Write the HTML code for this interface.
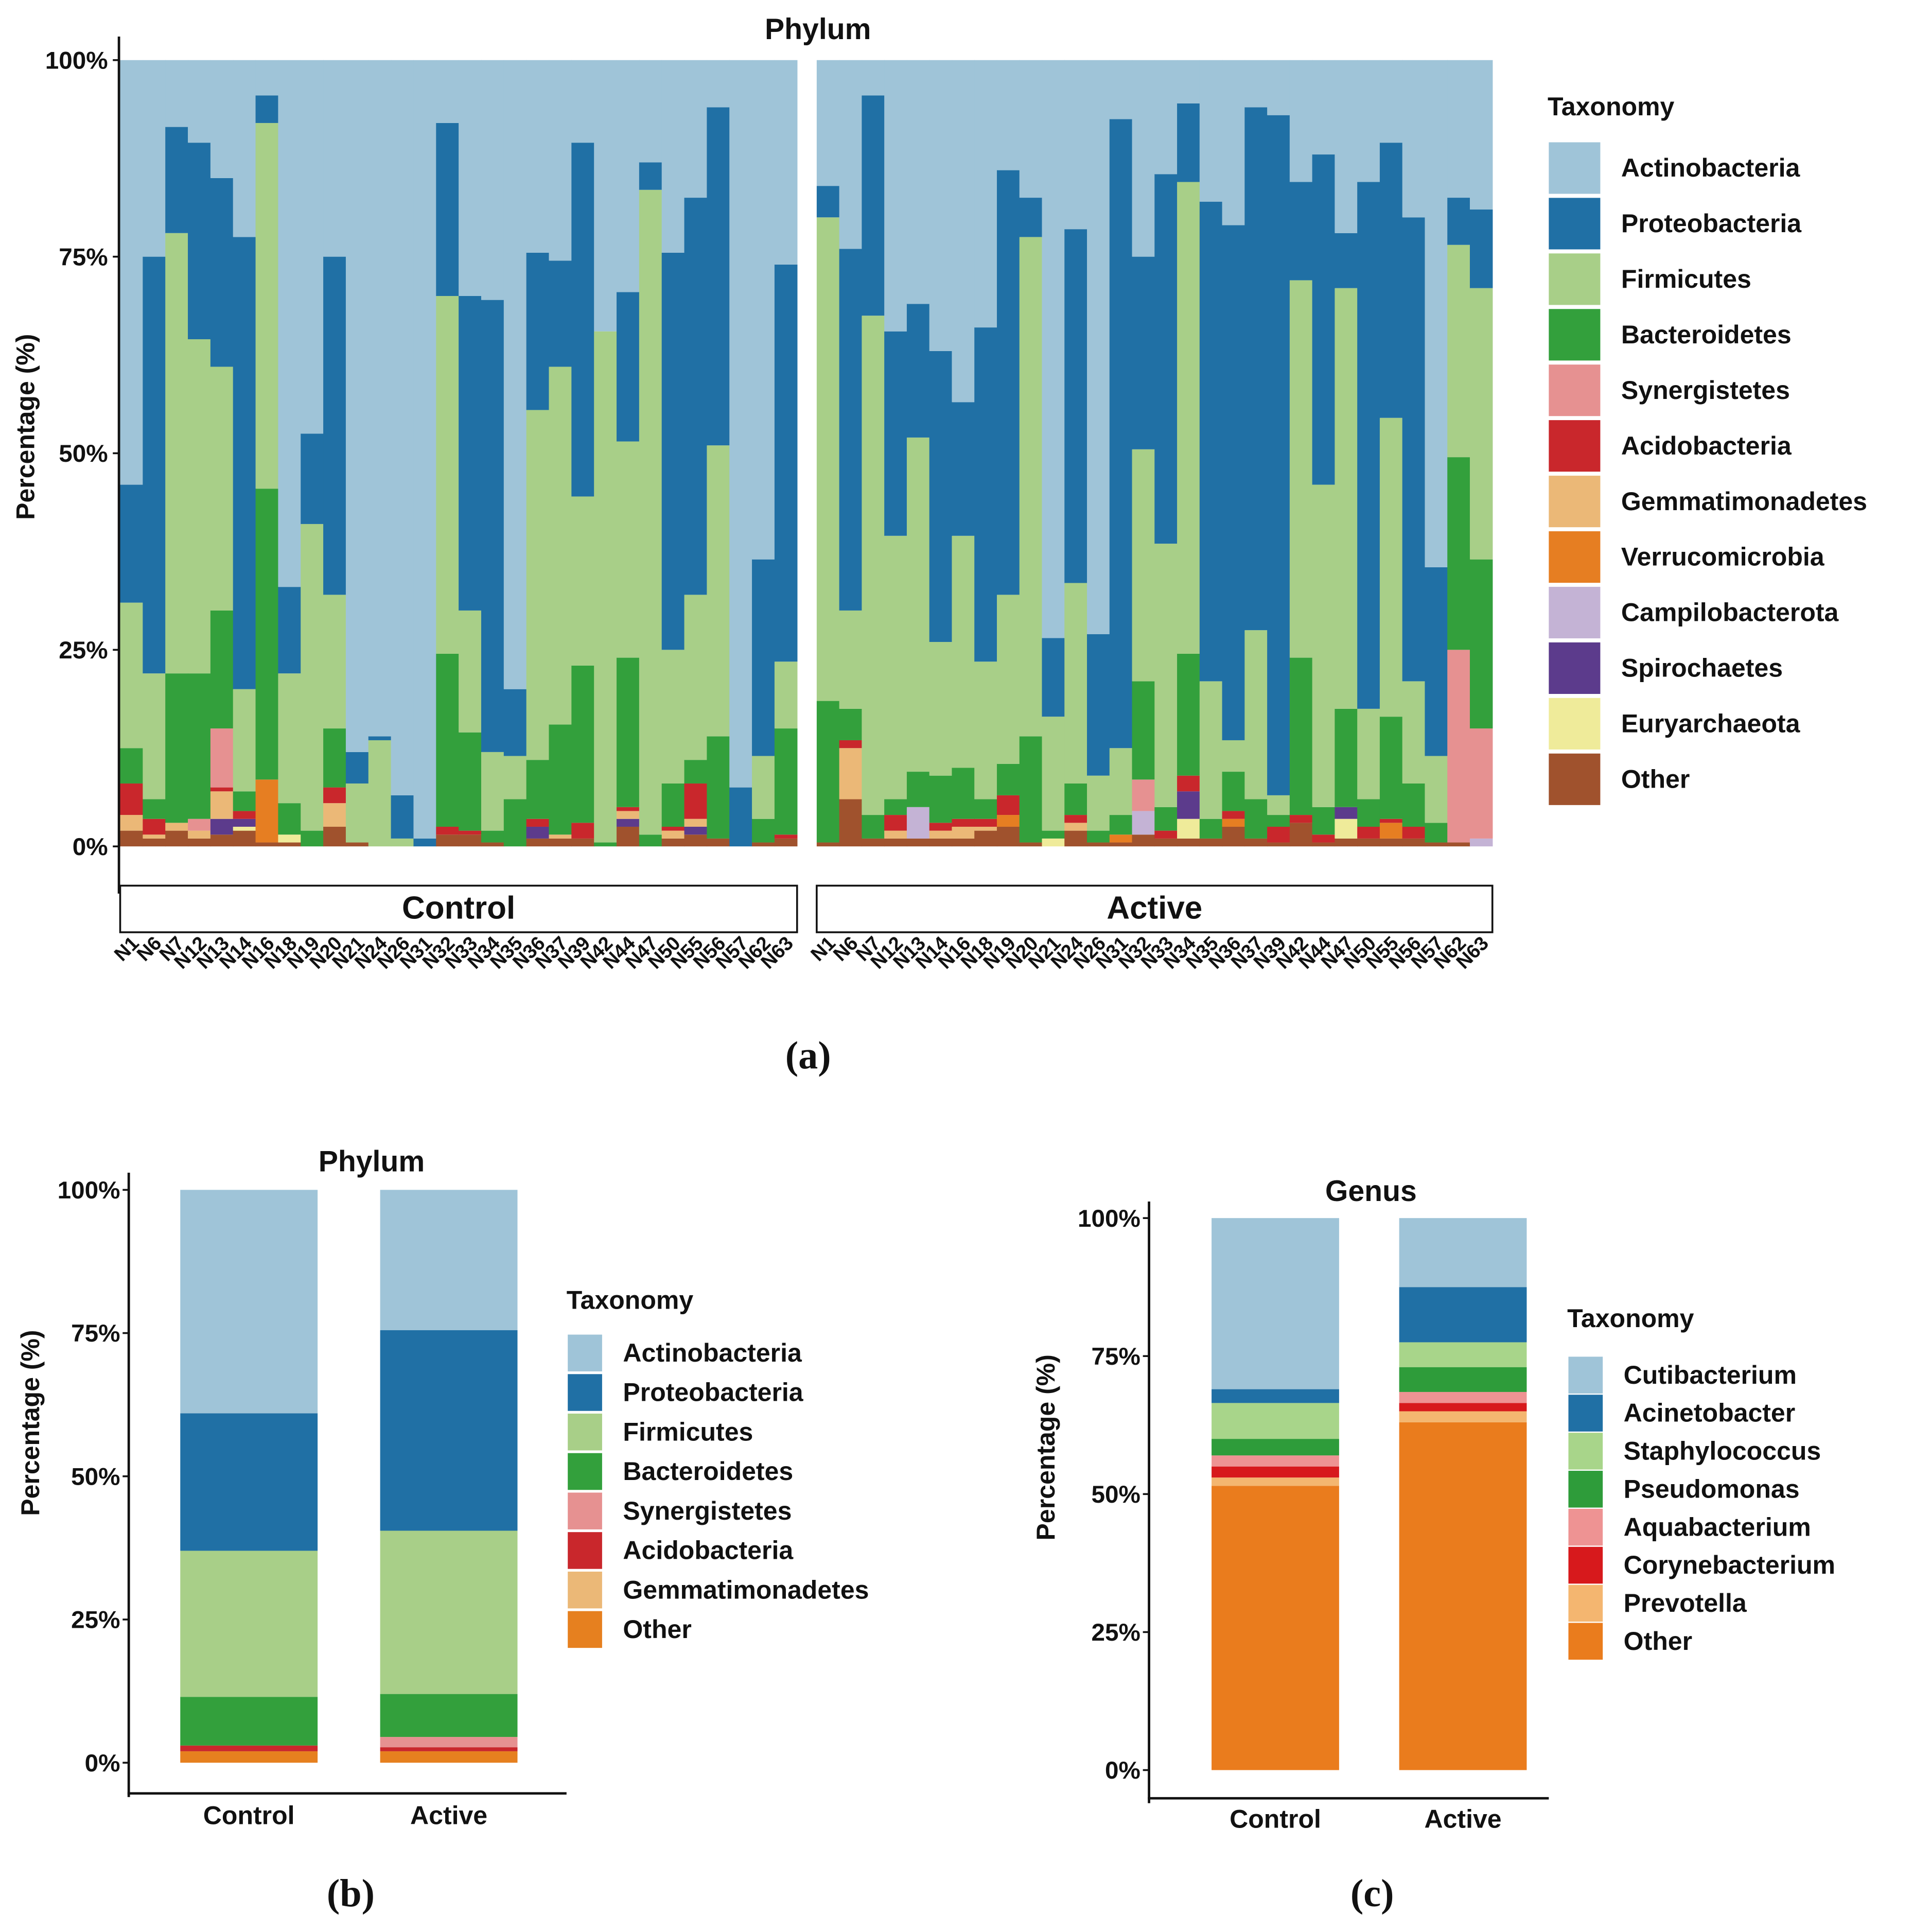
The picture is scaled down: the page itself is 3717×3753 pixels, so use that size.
<!DOCTYPE html>
<html><head><meta charset="utf-8"><style>html,body{margin:0;padding:0;background:#fff}svg{display:block}text{font-family:"Liberation Sans",sans-serif;font-weight:bold;fill:#111}</style></head>
<body>
<svg id="fig" xmlns="http://www.w3.org/2000/svg" width="3717" height="3753" viewBox="0 0 1560 1575" preserveAspectRatio="none">
<g id="ga"></g>
<g id="gb"></g>
<g id="gc"></g>
</svg>
<script>
const samples=["N1","N6","N7","N12","N13","N14","N16","N18","N19","N20","N21","N24","N26","N31","N32","N33","N34","N35","N36","N37","N39","N42","N44","N47","N50","N55","N56","N57","N62","N63"];
const taxaA=["Actinobacteria","Proteobacteria","Firmicutes","Bacteroidetes","Synergistetes","Acidobacteria","Gemmatimonadetes","Verrucomicrobia","Campilobacterota","Spirochaetes","Euryarchaeota","Other"];
const colorsA=["#9fc4d8","#2070a5","#a8cf88","#33a03c","#e69191","#c9272c","#ebb877","#e67e22","#c4b3d5","#5c3b8c","#efeb9a","#a0522d"];
// Control facet values (%)
const cOther=[2,1,2,1,1.5,2,.5,.5,0,2.5,.5,0,0,0,1.5,1.5,.5,0,1,1,1,0,2.5,0,1,1.5,1,0,.5,1];
const cEury=[0,0,0,0,0,.5,0,1,0,0,0,0,0,0,0,0,0,0,0,0,0,0,0,0,0,0,0,0,0,0];
const cSpiro=[0,0,0,0,2,1,0,0,0,0,0,0,0,0,0,0,0,0,1.5,0,0,0,1,0,0,1,0,0,0,0];
const cCampi=[0,0,0,0,0,0,0,0,0,0,0,0,0,0,0,0,0,0,0,0,0,0,0,0,0,0,0,0,0,0];
const cVerruc=[0,0,0,0,0,0,8,0,0,0,0,0,0,0,0,0,0,0,0,0,0,0,0,0,0,0,0,0,0,0];
const cGem=[2,.5,1,1,3.5,0,0,0,0,3,0,0,0,0,0,0,0,0,0,.5,0,0,1,0,1,1,0,0,0,0];
const cAcido=[4,2,0,0,.5,1,0,0,0,2,0,0,0,0,1,.5,0,0,1,0,2,0,.5,0,.5,4.5,0,0,0,.5];
const cSyn=[0,0,0,1.5,7.5,0,0,0,0,0,0,0,0,0,0,0,0,0,0,0,0,0,0,0,0,0,0,0,0,0];
const cBact=[4.5,2.5,19,18.5,15,2.5,37,4,2,7.5,0,0,0,0,22,12.5,1.5,6,7.5,14,20,.5,19,1.5,5.5,3,13,0,3,13.5];
const cFirm=[18.5,16,56,42.5,31,13,46.5,16.5,39,17,7.5,13.5,1,0,45.5,15.5,10,5.5,44.5,45.5,21.5,65,27.5,82,17,21,37,0,8,8.5];
const cProt=[15,53,13.5,25,24,57.5,3.5,11,11.5,43,4,.5,5.5,1,22,40,57.5,8.5,20,13.5,45,0,19,3.5,50.5,50.5,43,7.5,25,50.5];
// Active facet values (%)
const aOther=[.5,6,1,1,1,1,1,2,2.5,.5,0,2,.5,.5,1.5,1,1,1,2.5,1,.5,3,.5,1,1,1,1,.5,.5,0];
const aEury=[0,0,0,0,0,0,0,0,0,0,1,0,0,0,0,0,2.5,0,0,0,0,0,0,2.5,0,0,0,0,0,0];
const aSpiro=[0,0,0,0,0,0,0,0,0,0,0,0,0,0,0,0,3.5,0,0,0,0,0,0,1.5,0,0,0,0,0,0];
const aCampi=[0,0,0,0,4,0,0,0,0,0,0,0,0,0,3,0,0,0,0,0,0,0,0,0,0,0,0,0,0,1];
const aVerruc=[0,0,0,0,0,0,0,0,1.5,0,0,0,0,1,0,0,0,0,1,0,0,0,0,0,0,2,0,0,0,0];
const aGem=[0,6.5,0,1,0,1,1.5,.5,0,0,0,1,0,0,0,0,0,0,0,0,0,0,0,0,0,0,0,0,0,0];
const aAcido=[0,1,0,2,0,1,1,1,2.5,0,0,1,0,0,0,1,2,0,1,0,2,1,1,0,1.5,.5,1.5,0,0,0];
const aSyn=[0,0,0,0,0,0,0,0,0,0,0,0,0,0,4,0,0,0,0,0,0,0,0,0,0,0,0,0,24.5,14];
const aBact=[18,4,3,2,4.5,6,6.5,2.5,4,13.5,1,4,1.5,2.5,12.5,3,15.5,2.5,5,5,1.5,20,3.5,12.5,3.5,13,5.5,2.5,24.5,21.5];
const aFirm=[61.5,12.5,63.5,33.5,42.5,17,29.5,17.5,21.5,63.5,14.5,25.5,7,8.5,29.5,33.5,60,17.5,4,21.5,2.5,48,41,53.5,11.5,38,13,8.5,27,34.5];
const aProt=[4,46,28,26,17,37,17,42.5,54,5,10,45,18,80,24.5,47,10,61,65.5,66.5,86.5,12.5,42,7,67,35,59,24,6,10];
const yTicks=[0,25,50,75,100];

// panel b
const bGroups=["Control","Active"];
const bTaxa=["Actinobacteria","Proteobacteria","Firmicutes","Bacteroidetes","Synergistetes","Acidobacteria","Gemmatimonadetes","Other"];
const bColors=["#9fc4d8","#2070a5","#a8cf88","#33a03c","#e69191","#c9272c","#ebb877","#e6801f"];
const bOther=[2,2];const bGem=[0,0];const bAcido=[1,.7];const bSyn=[0,1.8];const bBact=[8.5,7.5];const bFirm=[25.5,28.5];const bProt=[24,35];
// panel c
const cTaxa=["Cutibacterium","Acinetobacter","Staphylococcus","Pseudomonas","Aquabacterium","Corynebacterium","Prevotella","Other"];
const cColors=["#9fc4d8","#2070a5","#a8d58a","#2e9c3a","#ee9393","#d7191c","#f4b670","#ea7c1d"];
const gOther=[51.5,63];const gPrev=[1.5,2];const gCory=[2,1.5];const gAqua=[2,2];const gPseudo=[3,4.5];const gStaph=[6.5,4.5];const gAcin=[2.5,10];

const NS="http://www.w3.org/2000/svg";
function mk(p,tag,attrs,txt){const e=document.createElementNS(NS,tag);for(const k in attrs)e.setAttribute(k,attrs[k]);if(txt!==undefined)e.textContent=txt;p.appendChild(e);return e;}

function stack(g,xL,w,yScale,vals,cols,topCol,name){
  let cum=0;
  vals.forEach((v,i)=>{if(v>0){const r=mk(g,"rect",{x:xL,y:yScale(cum+v),width:w,height:yScale(cum)-yScale(cum+v),fill:cols[i]});
    
    }cum+=v;});
  if(topCol){const r=mk(g,"rect",{x:xL,y:yScale(100),width:w,height:yScale(cum)-yScale(100),fill:topCol});
    
    }
}
function yAxis(g,x,ys,x0Label){
  mk(g,"line",{x1:x,x2:x,y1:ys(103),y2:ys(-6),stroke:"#111","stroke-width":2});
  yTicks.forEach(t=>{const l=mk(g,"text",{x:x0Label,y:ys(t)+7,"text-anchor":"end","font-size":20},t+"%");
    
    
    mk(g,"line",{x1:x-5,x2:x,y1:ys(t),y2:ys(t),stroke:"#111","stroke-width":1.5});});
}
function legend(g,x,y0,step,kw,kh,names,cols,fs){
  names.forEach((n,i)=>{const r=mk(g,"rect",{x:x,y:y0+i*step,width:kw,height:kh,fill:cols[i]});
    
    
    const t=mk(g,"text",{x:x+kw+17,y:y0+i*step+kh/2+7,"font-size":fs},n);
    
    });
}

// ---------- panel a
const ga=document.getElementById("ga");
const ysA=v=>690-v*6.41;
mk(ga,"text",{x:667,y:32,"text-anchor":"middle","font-size":24},"Phylum");
const cols12=colorsA.slice().reverse();
const facets=[{x0:98,x1:650,label:"Control",d:[cOther,cEury,cSpiro,cCampi,cVerruc,cGem,cAcido,cSyn,cBact,cFirm,cProt]},
  {x0:666,x1:1217,label:"Active",d:[aOther,aEury,aSpiro,aCampi,aVerruc,aGem,aAcido,aSyn,aBact,aFirm,aProt]}];
facets.forEach(f=>{
  const bw=(f.x1-f.x0)/samples.length;
  samples.forEach((s,i)=>{
    const vals=f.d.map(a=>a[i]);
    stack(ga,f.x0+i*bw,bw+0.3,ysA,vals,cols12.slice(0,11),colorsA[0],'bar-'+f.label.toLowerCase()+'-'+s);
    const xc=f.x0+i*bw+bw/2+7;
    const t=mk(ga,"text",{x:xc,y:770,"text-anchor":"end","font-size":16,transform:`rotate(-45 ${xc} 770)`},s);
    
    
  });
  const r=mk(ga,"rect",{x:f.x0,y:722,width:f.x1-f.x0,height:38,fill:"#fff",stroke:"#111","stroke-width":1.5});
  
  
  mk(ga,"text",{x:(f.x0+f.x1)/2,y:749,"text-anchor":"middle","font-size":26},f.label);
});
yAxis(ga,97,ysA,88);
mk(ga,"text",{x:28,y:348,"text-anchor":"middle","font-size":21,transform:"rotate(-90 28 348)"},"Percentage (%)");
mk(ga,"text",{x:1262,y:94,"font-size":21},"Taxonomy");
legend(ga,1263,116,45.3,42,42,taxaA,colorsA,21);
mk(ga,"text",{x:659,y:871,"text-anchor":"middle","font-size":32,style:"font-family:'Liberation Serif',serif"},"(a)");

// ---------- panel b
const gb=document.getElementById("gb");
const ysB=v=>1437-v*4.67;
mk(gb,"text",{x:303,y:955,"text-anchor":"middle","font-size":24},"Phylum");
const bX=[147,310];
bGroups.forEach((g,i)=>{
  stack(gb,bX[i],112,ysB,[bOther[i],bGem[i],bAcido[i],bSyn[i],bBact[i],bFirm[i],bProt[i]],["#e6801f","#ebb877","#c9272c","#e69191","#33a03c","#a8cf88","#2070a5"],"#9fc4d8",'bar-b-'+g.toLowerCase());
  const t=mk(gb,"text",{x:bX[i]+56,y:1487,"text-anchor":"middle","font-size":21},g);
  
  
});
yAxis(gb,105,ysB,98);
mk(gb,"line",{x1:104,x2:462,y1:1462,y2:1462,stroke:"#111","stroke-width":2});
mk(gb,"text",{x:32,y:1160,"text-anchor":"middle","font-size":21,transform:"rotate(-90 32 1160)"},"Percentage (%)");
mk(gb,"text",{x:462,y:1067,"font-size":21},"Taxonomy");
legend(gb,463,1088,32.2,28,30,bTaxa,bColors,21);
mk(gb,"text",{x:286,y:1554,"text-anchor":"middle","font-size":32,style:"font-family:'Liberation Serif',serif"},"(b)");

// ---------- panel c
const gc=document.getElementById("gc");
const ysC=v=>1443-v*4.5;
mk(gc,"text",{x:1118,y:979,"text-anchor":"middle","font-size":24},"Genus");
const cX=[988,1141];
bGroups.forEach((g,i)=>{
  stack(gc,cX[i],104,ysC,[gOther[i],gPrev[i],gCory[i],gAqua[i],gPseudo[i],gStaph[i],gAcin[i]],["#ea7c1d","#f4b670","#d7191c","#ee9393","#2e9c3a","#a8d58a","#2070a5"],"#9fc4d8",'bar-c-'+g.toLowerCase());
  const t=mk(gc,"text",{x:cX[i]+52,y:1490,"text-anchor":"middle","font-size":21},g);
  
  
});
yAxis(gc,937,ysC,930);
mk(gc,"line",{x1:936,x2:1263,y1:1466,y2:1466,stroke:"#111","stroke-width":2});
mk(gc,"text",{x:860,y:1180,"text-anchor":"middle","font-size":21,transform:"rotate(-90 860 1180)"},"Percentage (%)");
mk(gc,"text",{x:1278,y:1082,"font-size":21},"Taxonomy");
legend(gc,1279,1106,31,28,30,cTaxa,cColors,21);
mk(gc,"text",{x:1119,y:1554,"text-anchor":"middle","font-size":32,style:"font-family:'Liberation Serif',serif"},"(c)");
</script>
</body></html>
